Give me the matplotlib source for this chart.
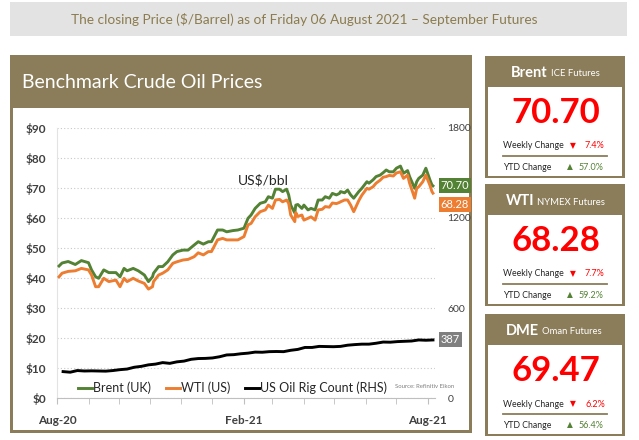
import matplotlib
matplotlib.use("Agg")
import matplotlib.pyplot as plt
import matplotlib.dates as mdates
import pandas as pd
from matplotlib.patches import Rectangle
from matplotlib.lines import Line2D

plt.rcParams["font.family"] = ["Lato", "DejaVu Sans"]

# --- data ------------------------------------------------------------------
price_dates = [
    "2020-08-03", "2020-08-06", "2020-08-12", "2020-08-19", "2020-08-25",
    "2020-09-01", "2020-09-04", "2020-09-08", "2020-09-11", "2020-09-16",
    "2020-09-21", "2020-09-28", "2020-10-02", "2020-10-06", "2020-10-09",
    "2020-10-15", "2020-10-20", "2020-10-26", "2020-10-30", "2020-11-03",
    "2020-11-04", "2020-11-09", "2020-11-13", "2020-11-18", "2020-11-23",
    "2020-11-27", "2020-12-03", "2020-12-08", "2020-12-14", "2020-12-18",
    "2020-12-23", "2020-12-28", "2020-12-31", "2021-01-06", "2021-01-11",
    "2021-01-15", "2021-01-21", "2021-01-26", "2021-02-01", "2021-02-05",
    "2021-02-08", "2021-02-12", "2021-02-17", "2021-02-22", "2021-02-25",
    "2021-03-01", "2021-03-04", "2021-03-08", "2021-03-11", "2021-03-15",
    "2021-03-17", "2021-03-19", "2021-03-23", "2021-03-24", "2021-03-26",
    "2021-03-30", "2021-04-01", "2021-04-05", "2021-04-08", "2021-04-12",
    "2021-04-15", "2021-04-19", "2021-04-22", "2021-04-26", "2021-04-29",
    "2021-05-03", "2021-05-06", "2021-05-07", "2021-05-11", "2021-05-14",
    "2021-05-17", "2021-05-20", "2021-05-25", "2021-05-28", "2021-06-02",
    "2021-06-04", "2021-06-08", "2021-06-11", "2021-06-15", "2021-06-18",
    "2021-06-21", "2021-06-24", "2021-06-28", "2021-07-01", "2021-07-05",
    "2021-07-08", "2021-07-12", "2021-07-14", "2021-07-19", "2021-07-21",
    "2021-07-23", "2021-07-27", "2021-07-30", "2021-08-03", "2021-08-05",
    "2021-08-06",
]
brent = [
    44.0, 45.0, 45.5, 44.5, 45.8,
    45.1, 42.7, 40.4, 39.9, 42.7,
    41.8, 41.8, 40.4, 43.2, 42.4,
    43.2, 42.4, 41.0, 38.8, 40.4,
    41.6, 43.8, 43.8, 45.4, 47.7,
    48.8, 49.3, 49.3, 51.0, 52.1,
    51.3, 52.1, 52.1, 56.0, 56.0,
    55.4, 55.8, 56.0, 56.6, 59.9,
    61.0, 63.2, 64.9, 65.4, 67.1,
    66.6, 69.6, 69.6, 68.8, 69.6,
    67.7, 64.3, 61.7, 64.3, 64.5,
    63.2, 64.3, 62.7, 63.2, 62.7,
    66.0, 66.0, 67.1, 66.6, 68.2,
    67.7, 68.2, 68.8, 68.4, 69.3,
    67.7, 66.6, 68.8, 69.9, 72.1,
    71.6, 72.7, 73.8, 74.3, 75.1,
    76.0, 75.4, 75.4, 76.6, 77.3,
    74.9, 75.8, 73.8, 69.9, 72.1,
    73.2, 74.3, 76.6, 72.7, 71.0,
    70.70,
]
wti = [
    40.4, 41.6, 42.2, 42.4, 43.2,
    42.7, 41.0, 37.1, 37.1, 39.9,
    38.8, 39.3, 37.1, 39.9, 38.8,
    39.9, 39.0, 38.2, 36.3, 37.1,
    38.8, 41.0, 41.6, 42.7, 44.9,
    45.4, 46.0, 46.2, 47.1, 48.4,
    47.7, 48.8, 48.8, 52.7, 53.2,
    52.7, 52.7, 52.7, 53.8, 57.7,
    58.2, 60.4, 62.1, 62.7, 64.3,
    63.2, 66.0, 66.2, 65.4, 66.0,
    64.9, 61.0, 58.8, 61.8, 60.5,
    61.0, 59.3, 59.9, 60.4, 59.3,
    62.7, 62.9, 63.8, 63.6, 65.0,
    64.8, 65.2, 65.4, 66.0, 66.0,
    64.3, 62.1, 65.8, 67.6, 69.9,
    69.6, 70.4, 71.6, 72.6, 73.6,
    73.8, 74.2, 74.0, 75.0, 75.4,
    73.2, 74.3, 71.6, 66.6, 69.9,
    70.4, 72.1, 74.3, 70.9, 68.8,
    68.28,
]
rig_dates = pd.date_range("2020-08-07", periods=53, freq="W-FRI")
rig_count = [
    176, 172, 183, 180, 181, 180, 179, 183, 189, 193, 205, 211, 221,
    226, 236, 231, 241, 246, 258, 263, 264, 267, 275, 287, 289, 295,
    299, 306, 305, 309, 310, 309, 318, 324, 337, 337, 344, 343, 342,
    344, 352, 356, 359, 359, 365, 373, 372, 376, 378, 380, 387, 385,
    387,
]

# name, description, split x of the header, price, weekly, ytd
cards = [
    ("Brent", "ICE Futures", 548, "70.70", "7.4%", "57.0%"),
    ("WTI", "NYMEX Futures", 534, "68.28", "7.7%", "59.2%"),
    ("DME", "Oman Futures", 539, "69.47", "6.2%", "56.4%"),
]

BROWN = "#8b7d5a"
GREEN = "#538234"
ORANGE = "#ed7d31"
DARK = "#404040"

W, H = 639, 440
fig = plt.figure(figsize=(W / 100, H / 100), dpi=100)


def fx(x):
    return x / W


def fy(y):
    return 1 - y / H


def box(x0, y0, x1, y1, color):
    fig.add_artist(Rectangle((fx(x0), fy(y1)), (x1 - x0) / W, (y1 - y0) / H,
                             transform=fig.transFigure, facecolor=color,
                             edgecolor="none", zorder=-5))


# header band
box(10, 2, 627, 36, "#e3e3e3")
fig.text(fx(304), fy(19), "The closing Price ($/Barrel) as of Friday 06 August 2021 \u2013 September Futures",
         ha="center", va="center", fontsize=9.8, color="#8b7b4e")

# main panel
box(10, 55, 472, 433, BROWN)
box(13, 108, 469, 430, "white")
fig.text(fx(22), fy(82), "Benchmark Crude Oil Prices", ha="left", va="center",
         fontsize=14, color="white")

ax = fig.add_axes([fx(57), fy(398), (435 - 57) / W, (398 - 128) / H])
ax.set_facecolor("none")
dates = pd.to_datetime(price_dates)
l_brent, = ax.plot(dates, brent, color=GREEN, lw=2.1, label="Brent (UK)", zorder=3)
l_wti, = ax.plot(dates, wti, color=ORANGE, lw=2.1, label="WTI (US)", zorder=3)

ax.set_ylim(0, 90)
ax.set_xlim(pd.Timestamp("2020-08-01"), pd.Timestamp("2021-08-08"))
ax.set_yticks(range(0, 100, 10))
ax.set_yticklabels([f"${v}" for v in range(0, 100, 10)], fontweight="bold",
                   fontsize=8.5, color=DARK)
ax.yaxis.grid(True, linestyle=(0, (1, 2)), color="#c8c8c8", lw=0.8)
ax.tick_params(axis="y", length=0, pad=8)

ax.xaxis.set_major_locator(mdates.MonthLocator(bymonth=[2, 8]))
ax.xaxis.set_minor_locator(mdates.MonthLocator())
ax.xaxis.set_major_formatter(mdates.DateFormatter("%b-%y"))
ax.tick_params(axis="x", which="both", length=4, color="#bfbfbf", pad=8)
for lab in ax.get_xticklabels():
    lab.set_fontweight("bold")
    lab.set_fontsize(8.5)
    lab.set_color(DARK)

for side in ("top", "right"):
    ax.spines[side].set_visible(False)
ax.spines["bottom"].set_color("#bfbfbf")
ax.spines["left"].set_color("#e3e3e3")

ax2 = ax.twinx()
ax2.set_facecolor("none")
l_rig, = ax2.plot(rig_dates, rig_count, color="black", lw=2.1,
                  label="US Oil Rig Count (RHS)", zorder=3)
ax2.set_ylim(0, 1800)
ax2.set_yticks([0, 600, 1200, 1800])
ax2.tick_params(axis="y", length=0, pad=9, labelsize=7.5, labelcolor=DARK)
for side in ("top", "right", "left", "bottom"):
    ax2.spines[side].set_visible(False)

ax2.legend(handles=[l_brent, l_wti, l_rig], loc="center left",
           bbox_to_anchor=(0.055, 0.037), ncol=3, frameon=False,
           fontsize=9, handlelength=1.1, handletextpad=0.1,
           columnspacing=1.2, borderpad=0, borderaxespad=0,
           labelcolor="#262626")

ax.text(pd.Timestamp("2021-02-20"), 72.5, "US$/bbl", ha="center", va="center",
        fontsize=10, color="#262626")
fig.text(fx(395), fy(386), "Source: Refinitiv Eikon", fontsize=4.3,
         color="#7f7f7f", ha="left", va="center")

# end-of-line value boxes
ends = [(ax, brent[-1], 0, f"{brent[-1]:.2f}", GREEN),
        (ax, wti[-1], -11, f"{wti[-1]:.2f}", ORANGE),
        (ax2, rig_count[-1], 0, f"{rig_count[-1]}", "#7f7f7f")]
for a, val, dy, txt, col in ends:
    a.annotate(txt, xy=(1.0, val), xycoords=("axes fraction", "data"),
               xytext=(4, dy * 0.72), textcoords="offset points",
               ha="left", va="center", fontsize=8, color="white",
               bbox=dict(boxstyle="square,pad=0.18", facecolor=col, edgecolor="none"))

# right-hand price cards
tops = [56, 184, 314]
for top, (name, desc, split, price, wk, ytd) in zip(tops, cards):
    box(485, top, 625, top + 122, BROWN)
    box(488, top + 31, 622, top + 120, "white")
    fig.text(fx(split), fy(top + 17), name, ha="right", va="center",
             fontsize=10.5, fontweight="bold", color="white")
    fig.text(fx(split + 3), fy(top + 18), desc, ha="left", va="center",
             fontsize=6.8, color="white")
    fig.text(fx(556), fy(top + 57), price, ha="center", va="center",
             fontsize=25, fontweight="bold", color="#ff0000")
    fig.text(fx(503), fy(top + 90), "Weekly Change", ha="left", va="center",
             fontsize=6.3, color="#262626")
    fig.text(fx(573), fy(top + 90), "\u25bc", ha="center", va="center",
             fontsize=5.5, color="#ff0000", family="DejaVu Sans")
    fig.text(fx(585), fy(top + 90), wk, ha="left", va="center",
             fontsize=6.5, color="#ff0000")
    fig.add_artist(Line2D([fx(503), fx(607)], [fy(top + 100)] * 2,
                          transform=fig.transFigure, color=BROWN, lw=1.3))
    fig.text(fx(503), fy(top + 111), "YTD Change", ha="left", va="center",
             fontsize=6.3, color="#262626")
    fig.text(fx(570), fy(top + 111), "\u25b2", ha="center", va="center",
             fontsize=5.5, color=GREEN, family="DejaVu Sans")
    fig.text(fx(579), fy(top + 111), ytd, ha="left", va="center",
             fontsize=6.5, color=GREEN)

fig.savefig("out.png", dpi=100, facecolor="white")
